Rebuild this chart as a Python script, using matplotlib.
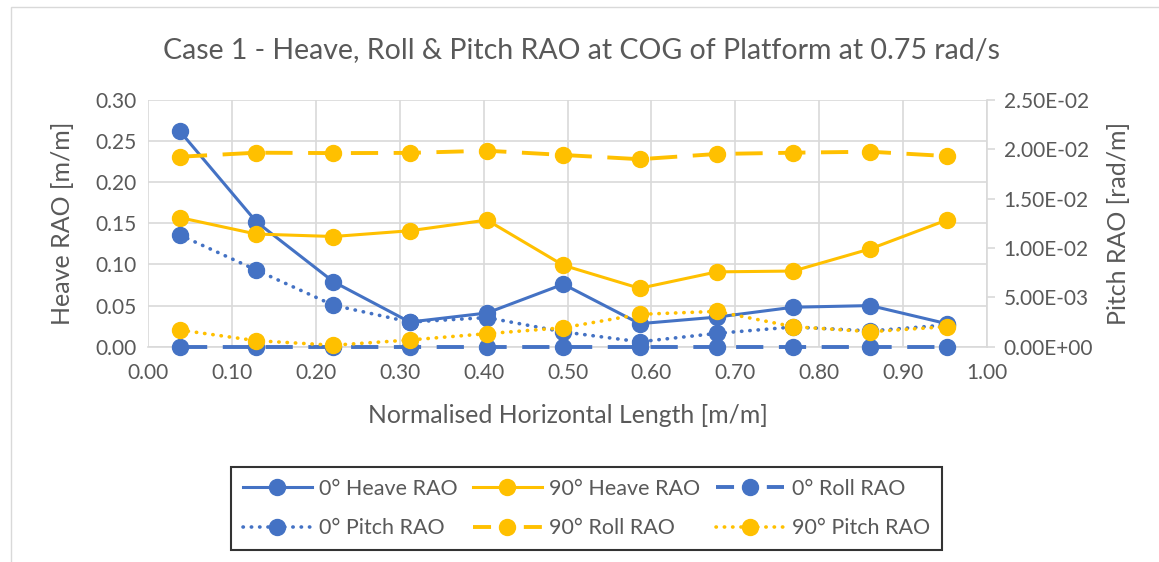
import numpy as np
import matplotlib
matplotlib.use('Agg')
import matplotlib.pyplot as plt
from matplotlib.patches import Rectangle
from matplotlib.lines import Line2D
from matplotlib.ticker import MultipleLocator, FuncFormatter

plt.rcParams['font.family'] = ['Lato', 'DejaVu Sans']

BLUE = '#4472C4'
GOLD = '#FFC000'
TXT = '#595959'
GRID = '#D9D9D9'

# normalised horizontal position of each riser node
x_pos = [0.038, 0.129, 0.221, 0.312, 0.404, 0.495, 0.586, 0.678, 0.769, 0.861, 0.952]

# heave RAO [m/m] (primary axis)
heave_0 = [0.262, 0.152, 0.079, 0.030, 0.041, 0.076, 0.028, 0.036, 0.048, 0.050, 0.028]
heave_90 = [0.157, 0.137, 0.134, 0.141, 0.154, 0.099, 0.071, 0.091, 0.092, 0.119, 0.154]

# roll / pitch RAO [rad/m] (secondary axis)
roll_0 = [0.0, 0.0, 0.0, 0.0, 0.0, 0.0, 0.0, 0.0, 0.0, 0.0, 0.0]
pitch_0 = [0.01132, 0.00777, 0.00420, 0.00250, 0.00295, 0.00150, 0.00050, 0.00135, 0.00200, 0.00160, 0.00220]
roll_90 = [0.01925, 0.01966, 0.01962, 0.01964, 0.01986, 0.01943, 0.01900, 0.01953, 0.01966, 0.01976, 0.01932]
pitch_90 = [0.00169, 0.00061, 0.00015, 0.00068, 0.00132, 0.00192, 0.00328, 0.00358, 0.00203, 0.00152, 0.00203]

fig = plt.figure(figsize=(11.59, 5.62), dpi=100)

# light chart-area border
fig.patches.append(Rectangle((11 / 1159, -0.05), 1.2, 1 - 7 / 562 + 0.05,
                             transform=fig.transFigure, fill=False,
                             edgecolor=GRID, linewidth=1.0))

ax = fig.add_axes([148 / 1159, 1 - 346.7 / 562, 839 / 1159, 246.7 / 562])
ax2 = ax.twinx()

lw = 2.2
ms = 11.5
dash = (0, (7, 4))
dots = (0, (0.1, 2.2))
h0h, = ax.plot(x_pos, heave_0, color=BLUE, lw=lw, marker='o', ms=ms, label='0° Heave RAO')
h90h, = ax.plot(x_pos, heave_90, color=GOLD, lw=lw, marker='o', ms=ms, label='90° Heave RAO')

h0r, = ax2.plot(x_pos, roll_0, color=BLUE, lw=lw + 0.6, ls=dash, marker='o', ms=ms,
                clip_on=False, label='0° Roll RAO')
h0p, = ax2.plot(x_pos, pitch_0, color=BLUE, lw=lw + 0.4, ls=dots,
                dash_capstyle='round', marker='o', ms=ms, clip_on=False, label='0° Pitch RAO')
h90r, = ax2.plot(x_pos, roll_90, color=GOLD, lw=lw + 0.6, ls=dash, marker='o', ms=ms,
                 label='90° Roll RAO')
h90p, = ax2.plot(x_pos, pitch_90, color=GOLD, lw=lw + 0.4, ls=dots,
                 dash_capstyle='round', marker='o', ms=ms, clip_on=False, label='90° Pitch RAO')

ax.set_xlim(0, 1.0)
ax.set_ylim(0, 0.30)
ax2.set_ylim(0, 0.025)
ax.xaxis.set_major_locator(MultipleLocator(0.1))
ax.yaxis.set_major_locator(MultipleLocator(0.05))
ax2.yaxis.set_major_locator(MultipleLocator(0.005))
ax.xaxis.set_major_formatter(FuncFormatter(lambda v, p: f'{v:.2f}'))
ax.yaxis.set_major_formatter(FuncFormatter(lambda v, p: f'{v:.2f}'))
ax2.yaxis.set_major_formatter(FuncFormatter(lambda v, p: f'{v:.2E}'))

ax.grid(True, color=GRID, lw=1.2)
ax.set_axisbelow(True)
for s in ['top', 'left', 'right']:
    ax.spines[s].set_visible(False)
for s in ['top', 'left', 'bottom']:
    ax2.spines[s].set_visible(False)
ax.spines['bottom'].set_color(GRID)
ax.spines['bottom'].set_linewidth(1.2)
ax2.spines['right'].set_color(GRID)
ax2.spines['right'].set_linewidth(1.2)

ax.tick_params(axis='both', length=0, labelsize=15, labelcolor=TXT, pad=8)
ax.tick_params(axis='x', pad=12)
ax2.tick_params(axis='y', length=6, width=1.2, color=GRID, direction='out',
                labelsize=15, labelcolor=TXT, pad=6)

ax.set_ylabel('Heave RAO [m/m]', fontsize=18, color=TXT)
ax.yaxis.set_label_coords(-0.088, 0.5)
ax2.set_ylabel('Pitch RAO [rad/m]', fontsize=18, color=TXT)
ax2.yaxis.set_label_coords(1.143, 0.5)
ax.set_xlabel('Normalised Horizontal Length [m/m]', fontsize=17.8, color=TXT)
ax.xaxis.set_label_coords(0.5, -0.232)

fig.text(0.502, 1 - 50 / 562, 'Case 1 - Heave, Roll & Pitch RAO at COG of Platform at 0.75 rad/s',
         ha='center', va='center', fontsize=20.5, color=TXT)

# dashed legend keys: short dash either side of the marker
leg_dash = (0, (4.64, 8.43))
k0r = Line2D([], [], color=BLUE, lw=lw + 0.6, ls=leg_dash, marker='o', ms=ms)
k90r = Line2D([], [], color=GOLD, lw=lw + 0.6, ls=leg_dash, marker='o', ms=ms)

handles = [h0h, h0p, h90h, k90r, k0r, h90p]
labels = ['0° Heave RAO', '0° Pitch RAO', '90° Heave RAO', '90° Roll RAO',
          '0° Roll RAO', '90° Pitch RAO']
leg = fig.legend(handles=handles, labels=labels,
                 loc='center', bbox_to_anchor=(586.5 / 1159, 1 - 508.5 / 562), ncol=3,
                 fontsize=15.5, frameon=True, fancybox=False, edgecolor='black',
                 handlelength=3.2, handletextpad=0.35, columnspacing=0.7,
                 labelspacing=0.9, borderpad=0.55)
leg.get_frame().set_linewidth(1.5)
for t in leg.get_texts():
    t.set_color(TXT)

fig.savefig('out.png', dpi=100)
